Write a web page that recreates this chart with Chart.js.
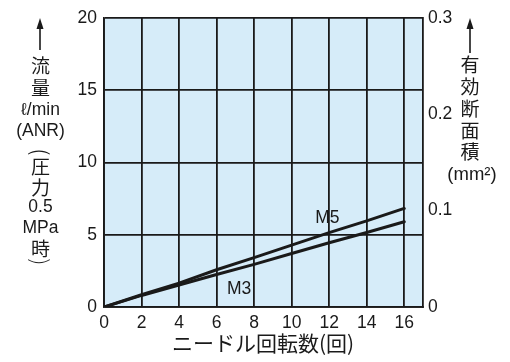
<!DOCTYPE html>
<html><head><meta charset="utf-8">
<script src="https://cdn.jsdelivr.net/npm/chart.js@4.4.1/dist/chart.umd.min.js"></script>
<style>html,body{margin:0;padding:0;background:#fff}canvas{display:block}</style>
</head><body>
<canvas id="c" width="510" height="362"></canvas>
<script>
const turns = [0, 2, 4, 6, 8, 10, 12, 14, 16];
const flowM5 = [0, 0.85, 1.65, 2.58, 3.42, 4.28, 5.15, 5.96, 6.82];
const flowM3 = [0, 0.8, 1.52, 2.25, 2.95, 3.7, 4.45, 5.16, 5.9];
const seriesNames = ['M5', 'M3'];
const seriesLabelAt = [[11.9, 6.15], [7.2, 1.24]];
const leftTitle = ['流', '量', 'ℓ/min', '(ANR)', '(', '圧', '力', '0.5', 'MPa', '時', ')'];
const rightTitle = ['有', '効', '断', '面', '積', '(mm²)'];
const xTitle = 'ニードル回転数(回)';

// detect a condensed sans if installed
function hasFont(f) {
  const c = document.createElement('canvas').getContext('2d');
  c.font = '40px "' + f + '", monospace';
  const a = c.measureText('MMMiiil0123').width;
  c.font = '40px monospace';
  return a !== c.measureText('MMMiiil0123').width;
}
const NARROW = hasFont('Liberation Sans Narrow');
const LAT = NARROW ? '"Liberation Sans Narrow", sans-serif' : '"Liberation Sans", Arial, sans-serif';
const NUM = NARROW ? 19 : 17.5;
const CJK = '"Noto Sans CJK JP", sans-serif';
const INK = '#1a1a1a';

const deco = {
  id: 'deco',
  beforeDraw(chart) {
    const {ctx, chartArea: a} = chart;
    ctx.save();
    ctx.fillStyle = '#d6ecf9';
    ctx.fillRect(a.left, a.top, a.right - a.left, a.bottom - a.top);
    ctx.restore();
  },
  afterDraw(chart) {
    const {ctx, chartArea: a, scales} = chart;
    ctx.save();
    ctx.fillStyle = INK;
    ctx.strokeStyle = INK;
    ctx.textAlign = 'center';
    ctx.textBaseline = 'middle';
    ctx.font = NUM + 'px ' + LAT;
    seriesNames.forEach((n, i) => {
      const p = seriesLabelAt[i];
      ctx.fillText(n, scales.x.getPixelForValue(p[0]), scales.y.getPixelForValue(p[1]));
    });
    function arrow(x, y0, y1) {
      ctx.lineWidth = 1.6;
      ctx.beginPath(); ctx.moveTo(x, y1); ctx.lineTo(x, y0 + 8); ctx.stroke();
      ctx.beginPath(); ctx.moveTo(x, y0); ctx.lineTo(x - 3.5, y0 + 11); ctx.lineTo(x + 3.5, y0 + 11); ctx.closePath(); ctx.fill();
    }
    arrow(40, a.top, 50);
    arrow(470, a.top, 53);
    const lys = [66, 88, 110, 131, 152, 167, 188, 207, 228, 249, 262];
    leftTitle.forEach((t, i) => {
      const cjk = /[\u3000-\u9fff]/.test(t);
      if (t === '(' || t === ')') {
        ctx.save();
        ctx.translate(40.5, lys[i]);
        ctx.rotate(Math.PI / 2);
        ctx.font = '300 22px ' + CJK;
        ctx.fillText(t, 0, 0);
        ctx.restore();
        return;
      }
      ctx.font = cjk ? '19px ' + CJK : NUM + 'px ' + LAT;
      ctx.fillText(t, 40.5, lys[i]);
    });
    const rys = [65, 87, 109, 131, 152, 175];
    rightTitle.forEach((t, i) => {
      const cjk = /[\u3000-\u9fff]/.test(t);
      ctx.font = cjk ? '19px ' + CJK : (NUM + 1) + 'px ' + LAT;
      ctx.fillText(t, cjk ? 470 : 472, rys[i]);
    });
    ctx.font = '21px ' + CJK;
    ctx.fillText(xTitle, 263, 343);
    ctx.restore();
  }
};

new Chart(document.getElementById('c'), {
  type: 'line',
  data: {
    datasets: [
      {label: seriesNames[0], data: turns.map((x, i) => ({x, y: flowM5[i]})), yAxisID: 'y'},
      {label: seriesNames[1], data: turns.map((x, i) => ({x, y: flowM3[i]})), yAxisID: 'y'}
    ].map(d => Object.assign(d, {borderColor: INK, borderWidth: 3, pointRadius: 0, tension: 0, fill: false, borderCapStyle: 'round'}))
  },
  options: {
    responsive: false,
    animation: false,
    devicePixelRatio: 1,
    layout: {padding: {top: 18, left: 0, right: 0, bottom: 0}},
    plugins: {legend: {display: false}, tooltip: {enabled: false}},
    scales: {
      x: {
        type: 'linear', min: 0, max: 17,
        ticks: {stepSize: 2, includeBounds: false, padding: 6, color: INK, font: {family: LAT, size: NUM}},
        grid: {color: INK, lineWidth: 1.8, drawTicks: false},
        border: {color: INK, width: 1.8},
        afterFit(s) { s.height = 55; }
      },
      y: {
        type: 'linear', position: 'left', min: 0, max: 20,
        ticks: {stepSize: 5, padding: 7, color: INK, font: {family: LAT, size: NUM}},
        grid: {color: INK, lineWidth: 1.8, drawTicks: false},
        border: {color: INK, width: 1.8},
        afterFit(s) { s.width = 104; }
      },
      y2: {
        type: 'linear', position: 'right', min: 0, max: 0.3,
        ticks: {stepSize: 0.1, padding: 5, color: INK, font: {family: LAT, size: NUM},
          callback: v => v === 0 ? '0' : v.toFixed(1)},
        grid: {display: false, drawTicks: false},
        border: {color: INK, width: 1.8},
        afterFit(s) { s.width = 87; }
      }
    }
  },
  plugins: [deco]
});
</script>
</body></html>
